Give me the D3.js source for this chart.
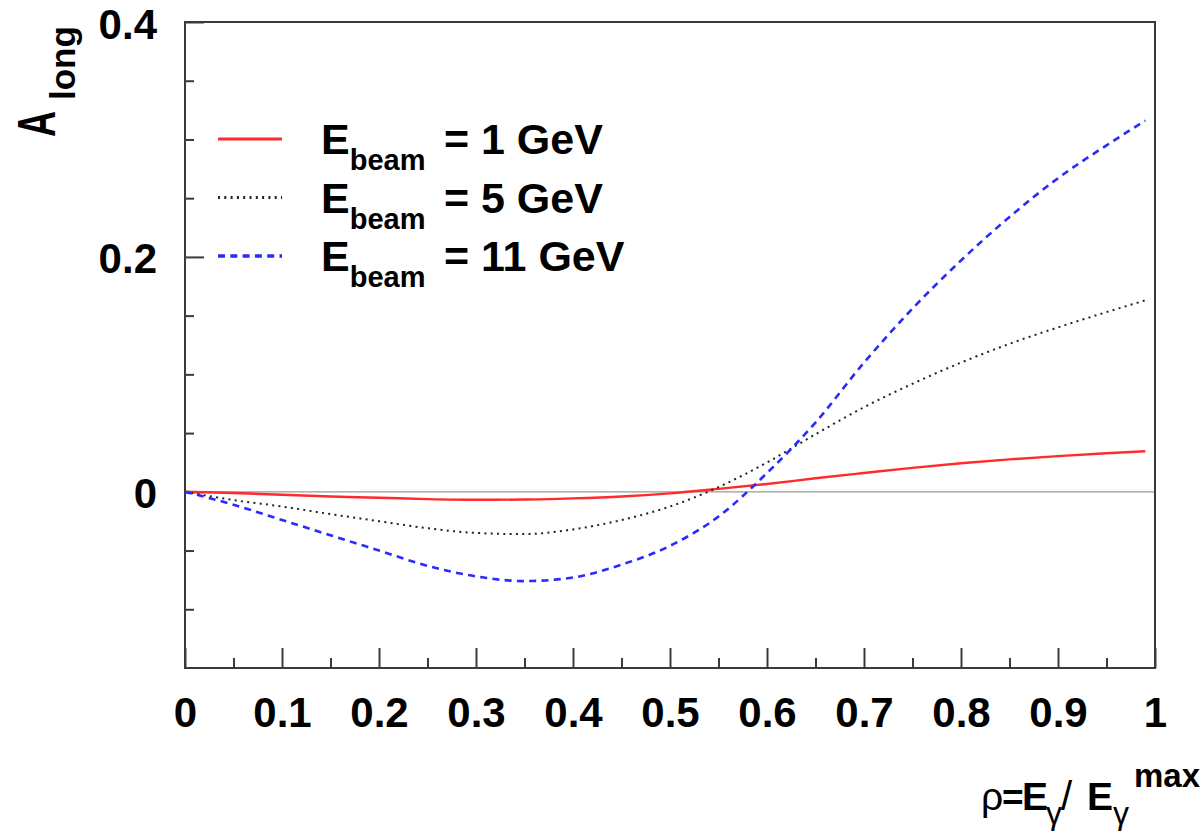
<!DOCTYPE html>
<html>
<head>
<meta charset="utf-8">
<script src="https://cdn.jsdelivr.net/npm/d3@7"></script>
<style>
  html, body { margin: 0; padding: 0; background: #fff; }
  svg { display: block; }
  text { font-family: "Liberation Sans", Arial, Helvetica, sans-serif; }
</style>
</head>
<body>
<svg id="chart" width="1203" height="840"></svg>
<script>
// ---- data ----
const rho = [0, 0.05, 0.1, 0.15, 0.2, 0.25, 0.3, 0.35, 0.4, 0.45, 0.5, 0.55, 0.6, 0.65, 0.7, 0.75, 0.8, 0.85, 0.9, 0.95, 0.99];
const along1GeV  = [0, -0.001, -0.0025, -0.004, -0.005, -0.0062, -0.0068, -0.0066, -0.0056, -0.004, -0.0013, 0.0025, 0.0067, 0.0115, 0.016, 0.0204, 0.0243, 0.0276, 0.0304, 0.0328, 0.0345];
const along5GeV  = [0, -0.007, -0.0125, -0.019, -0.025, -0.031, -0.035, -0.036, -0.032, -0.024, -0.0125, 0.004, 0.025, 0.049, 0.072, 0.092, 0.110, 0.126, 0.140, 0.153, 0.163];
const along11GeV = [0, -0.011, -0.024, -0.037, -0.050, -0.063, -0.072, -0.076, -0.073, -0.062, -0.046, -0.021, 0.016, 0.059, 0.110, 0.156, 0.197, 0.234, 0.267, 0.295, 0.316];
const seriesLabels = ["= 1 GeV", "= 5 GeV", "= 11 GeV"];
const xMajorTicks = [0, 0.1, 0.2, 0.3, 0.4, 0.5, 0.6, 0.7, 0.8, 0.9, 1];
const xTickLabels = ["0", "0.1", "0.2", "0.3", "0.4", "0.5", "0.6", "0.7", "0.8", "0.9", "1"];
const xMinorTicks = [0.05, 0.15, 0.25, 0.35, 0.45, 0.55, 0.65, 0.75, 0.85, 0.95];
const yMajorTicks = [0.4, 0.2, 0];
const yTickLabels = ["0.4", "0.2", "0"];
const yMinorTicks = [0.35, 0.3, 0.25, 0.15, 0.1, 0.05, -0.05, -0.1];

// ---- layout ----
const svg = d3.select("#chart");
const L = 185, R = 1155, T = 22, B = 668;
const x = d3.scaleLinear().domain([0, 1]).range([L, R]);
const y = d3.scaleLinear().domain([-0.15, 0.4]).range([B, T]);
const frameColor = "#3a3a3a";

// zero line
svg.append("line")
  .attr("x1", x(0)).attr("x2", x(1))
  .attr("y1", y(0)).attr("y2", y(0))
  .attr("stroke", "#9a9a9a").attr("stroke-width", 1.2);

// x axis (ticks inward)
const gx = svg.append("g").attr("transform", `translate(0,${B})`)
  .call(d3.axisBottom(x).tickValues(xMajorTicks).tickSize(-20).tickSizeOuter(0)
    .tickFormat((d, i) => xTickLabels[i]));
gx.select(".domain").remove();
gx.selectAll(".tick line").attr("stroke", frameColor).attr("stroke-width", 2);
gx.selectAll(".tick text")
  .attr("y", 59).attr("dy", 0)
  .attr("font-size", 42).attr("font-weight", "bold").attr("fill", "#000");
const gxm = svg.append("g").attr("transform", `translate(0,${B})`)
  .call(d3.axisBottom(x).tickValues(xMinorTicks).tickSize(-10).tickSizeOuter(0).tickFormat(""));
gxm.select(".domain").remove();
gxm.selectAll(".tick line").attr("stroke", frameColor).attr("stroke-width", 2);

// y axis (ticks inward)
const gy = svg.append("g").attr("transform", `translate(${L},0)`)
  .call(d3.axisLeft(y).tickValues(yMajorTicks).tickSize(-19).tickSizeOuter(0)
    .tickFormat((d, i) => yTickLabels[i]));
gy.select(".domain").remove();
gy.selectAll(".tick line").attr("stroke", frameColor).attr("stroke-width", 2);
gy.selectAll(".tick text")
  .attr("x", -28).attr("dy", 0).attr("y", 16)
  .attr("text-anchor", "end")
  .attr("font-size", 42).attr("font-weight", "bold").attr("fill", "#000");
const gym = svg.append("g").attr("transform", `translate(${L},0)`)
  .call(d3.axisLeft(y).tickValues(yMinorTicks).tickSize(-9).tickSizeOuter(0).tickFormat(""));
gym.select(".domain").remove();
gym.selectAll(".tick line").attr("stroke", frameColor).attr("stroke-width", 2);

// frame
svg.append("rect")
  .attr("x", L).attr("y", T).attr("width", R - L).attr("height", B - T)
  .attr("fill", "none").attr("stroke", frameColor).attr("stroke-width", 2);

// curves
const series = [
  { vals: along1GeV,  color: "#ff2a2a", width: 2.4, dash: null },
  { vals: along5GeV,  color: "#222222", width: 2,   dash: "2,4.3" },
  { vals: along11GeV, color: "#2a2aff", width: 2.6, dash: "7,5.3" }
];
const line = d3.line().x(d => x(d[0])).y(d => y(d[1])).curve(d3.curveMonotoneX);
series.forEach(s => {
  svg.append("path")
    .datum(rho.map((r, i) => [r, s.vals[i]]))
    .attr("d", line)
    .attr("fill", "none")
    .attr("stroke", s.color)
    .attr("stroke-width", s.width)
    .attr("stroke-dasharray", s.dash);
});

// legend
const legY0 = 139, legDy = 58.5;
series.forEach((s, i) => {
  const ly = legY0 + i * legDy;
  svg.append("line")
    .attr("x1", 218).attr("x2", 282).attr("y1", ly).attr("y2", ly)
    .attr("stroke", s.color).attr("stroke-width", s.width + 0.8)
    .attr("stroke-dasharray", s.dash);
  const t = svg.append("text")
    .attr("x", 321).attr("y", ly + 15)
    .attr("font-size", 43).attr("font-weight", "bold").attr("fill", "#000");
  t.append("tspan").text("E");
  t.append("tspan").attr("dy", 16).attr("font-size", 29).text("beam");
  t.append("tspan").attr("dy", -16).attr("x", 432).text(" " + seriesLabels[i]);
});

// y title: A_long (rotated)
const yt = svg.append("text")
  .attr("transform", "translate(55,137) rotate(-90)")
  .attr("font-weight", "bold").attr("fill", "#000");
yt.append("tspan").attr("x", 0).attr("y", 0)
  .attr("font-size", 53).attr("textLength", 26).attr("lengthAdjust", "spacingAndGlyphs").text("A");
yt.append("tspan").attr("x", 37).attr("y", 20)
  .attr("font-size", 35).text("long");

// x title: rho = E_gamma / E_gamma^max  (one text element, pieces as tspans)
const xtBase = 810;
const xt = svg.append("text").attr("fill", "#000");
const piece = (tx, ty, str, size, weight) => xt.append("tspan")
  .attr("x", tx).attr("y", ty).attr("font-size", size)
  .attr("font-weight", weight).text(str);
piece(981, xtBase, "ρ", 39, "normal");
piece(1002, xtBase, "=", 37, "bold");
piece(1022, xtBase, "E", 39, "bold");
piece(1046, xtBase + 14, "γ", 32, "normal");
piece(1061, xtBase, "/", 40, "normal");
piece(1087, xtBase, "E", 39, "bold");
piece(1113, xtBase + 14, "γ", 32, "normal");
piece(1134, 787, "max", 33, "bold");
</script>
</body>
</html>
